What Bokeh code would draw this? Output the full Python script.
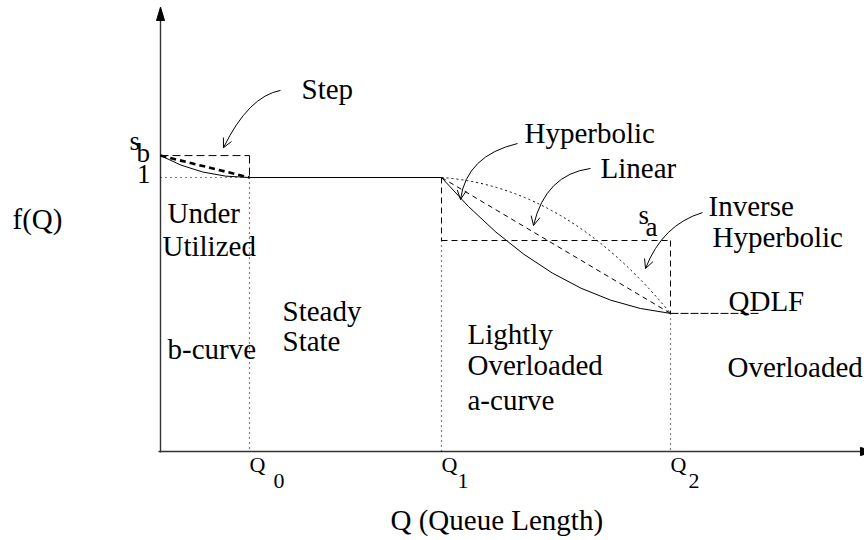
from bokeh.plotting import figure
from bokeh.models import Range1d, Label, Arrow, OpenHead
from bokeh.embed import file_html
from bokeh.resources import INLINE

# Queue-length thresholds Q0, Q1, Q2 and the end of the QDLF plateau
q_ticks = [0.89, 2.81, 5.10]
q_subs = ["0", "1", "2"]
q_plateau_end = 6.00

# f(Q) levels
f_sb = 1.08     # s_b : start of the b-curve
f_one = 1.0     # steady state
f_sa = 0.77     # s_a : step level of the a-curve
f_low = 0.504   # QDLF floor

# curve shape (quadratic control points)
b_ctrl = (0.40, 1.0)
hyp_ctrl = (3.88, 0.551)
inv_ctrl = (4.06, 0.967)

FONT = "'Liberation Serif', 'Times New Roman', Times, serif"
BIG = 29
MID = 27
SMALL = 22
Y_PER_PX = 1 / 274   # f(Q) units per screen pixel

p = figure(width=864, height=540, output_backend="svg", toolbar_location=None,
           x_range=Range1d(-1.60, 7.04), y_range=Range1d(-89 / 274, 451 / 274),
           min_border=0)
p.axis.visible = False
p.grid.visible = False
p.outline_line_color = None
p.background_fill_color = "white"
p.border_fill_color = "white"

q0, q1, q2 = q_ticks
ink = "black"

# axes with arrow heads
p.segment(x0=[0], y0=[-0.004], x1=[0], y1=[1.60], line_color="#333333", line_width=1.4)
p.patch(x=[-0.04, 0.0, 0.04], y=[1.573, 1.622, 1.573], color="black")
p.segment(x0=[-0.02], y0=[0], x1=[7.02], y1=[0], line_color="#333333", line_width=1.4)
p.patch(x=[7.00, 7.13, 7.00], y=[0.015, 0, -0.015], color="black")

# under-utilized region: step box, b-curve (solid) and linear (thick dashed)
p.segment(x0=[0, q0], y0=[f_sb, f_sb], x1=[q0, q0], y1=[f_sb, f_one],
          line_color=ink, line_width=1, line_dash="8 4")
p.quadratic(x0=[0], y0=[f_sb], x1=[q0], y1=[f_one], cx=[b_ctrl[0]], cy=[b_ctrl[1]],
            line_color=ink, line_width=1)
p.segment(x0=[0], y0=[f_sb], x1=[q0], y1=[f_one], line_color=ink, line_width=2.6,
          line_dash="6 4")
p.segment(x0=[0], y0=[f_one], x1=[q0], y1=[f_one], line_color=ink, line_width=1.2,
          line_dash="1 4")

# steady state
p.segment(x0=[q0], y0=[f_one], x1=[q1], y1=[f_one], line_color=ink, line_width=1)

# vertical region boundaries
p.segment(x0=[q0, q1, q2], y0=[f_one, f_sa, f_low], x1=[q0, q1, q2], y1=[0, 0, 0],
          line_color=ink, line_width=1.2, line_dash="1 4")
p.segment(x0=[q1, q2], y0=[f_one, f_sa], x1=[q1, q2], y1=[f_sa, f_low],
          line_color=ink, line_width=1, line_dash="6 4")

# lightly overloaded: a-curves
p.segment(x0=[q1], y0=[f_sa], x1=[q2], y1=[f_sa], line_color=ink, line_width=1,
          line_dash="6 4")
p.quadratic(x0=[q1], y0=[f_one], x1=[q2], y1=[f_low], cx=[hyp_ctrl[0]], cy=[hyp_ctrl[1]],
            line_color=ink, line_width=1)
p.segment(x0=[q1], y0=[f_one], x1=[q2], y1=[f_low], line_color=ink, line_width=1,
          line_dash="5 4")
p.quadratic(x0=[q1], y0=[f_one], x1=[q2], y1=[f_low], cx=[inv_ctrl[0]], cy=[inv_ctrl[1]],
            line_color=ink, line_width=1, line_dash="2 3")

# QDLF plateau
p.segment(x0=[q2], y0=[f_low], x1=[q_plateau_end], y1=[f_low], line_color=ink,
          line_width=1, line_dash="8 2")

# curved pointer arrows: (start, control, tip)
pointers = [
    ((1.20, 1.318), (0.88, 1.296), (0.63, 1.109)),   # Step
    ((3.57, 1.124), (3.06, 1.080), (3.00, 0.920)),   # Hyperbolic
    ((4.30, 1.033), (3.85, 1.011), (3.73, 0.825)),   # Linear
    ((5.42, 0.872), (5.02, 0.828), (4.85, 0.668)),   # Inverse Hyperbolic
]
for s, c, t in pointers:
    p.quadratic(x0=[s[0]], y0=[s[1]], x1=[t[0]], y1=[t[1]], cx=[c[0]], cy=[c[1]],
                line_color=ink, line_width=1)
    p.add_layout(Arrow(end=OpenHead(size=9, line_width=1, line_color=ink),
                       x_start=c[0], y_start=c[1], x_end=t[0], y_end=t[1],
                       line_alpha=0))


def label(x, y, text, size=BIG, align="left"):
    # the svg text sits a little low on its baseline; lift it by a share of its size
    lift = 0.36 * size * Y_PER_PX
    p.add_layout(Label(x=x, y=y + lift, text=text, text_font=FONT,
                       text_font_size=f"{size}px", text_color=ink,
                       text_baseline="alphabetic", text_align=align))


# region and curve names
label(-1.48, 0.810, "f(Q)")
label(2.30, -0.288, "Q (Queue Length)")
label(1.41, 1.285, "Step")
label(3.64, 1.124, "Hyperbolic")
label(4.40, 0.996, "Linear")
label(5.48, 0.858, "Inverse")
label(5.52, 0.745, "Hyperbolic")
label(5.68, 0.511, "QDLF")
label(0.07, 0.832, "Under")
label(0.02, 0.712, "Utilized")
label(0.07, 0.336, "b-curve")
label(1.22, 0.474, "Steady")
label(1.22, 0.365, "State")
label(3.07, 0.391, "Lightly")
label(3.07, 0.277, "Overloaded")
label(3.07, 0.150, "a-curve")
label(5.67, 0.270, "Overloaded")

# level names on the f(Q) axis
label(-0.31, 1.099, "s", size=MID)
label(-0.24, 1.055, "b", size=MID)
label(-0.10, 0.978, "1", size=MID, align="right")
label(4.78, 0.827, "s", size=MID)
label(4.85, 0.785, "a", size=MID)

# threshold names on the Q axis
sub_dx = [0.24, 0.16, 0.18]
for q, sub, dx in zip(q_ticks, q_subs, sub_dx):
    label(q, -0.075, "Q", size=SMALL)
    label(q + dx, -0.136, sub, size=SMALL)

open("out.html", "w").write(file_html(p, INLINE))
